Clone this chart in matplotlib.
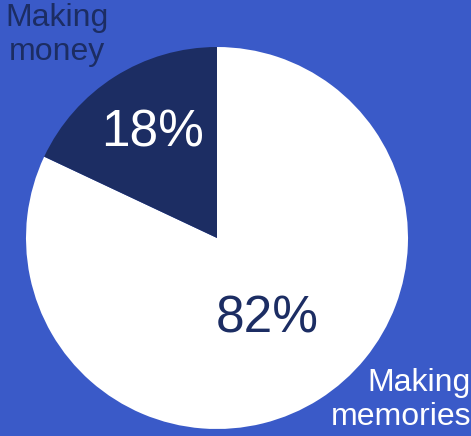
import matplotlib.pyplot as plt

labels = ["Making memories", "Making money"]
shares = [82, 18]

bg = "#3a5ac8"
navy = "#1c2d63"
white = "#ffffff"

plt.rcParams['font.family'] = ['Liberation Sans', 'DejaVu Sans']

fig = plt.figure(figsize=(4.71, 4.36), dpi=100, facecolor=bg)
ax = fig.add_axes([0, 0, 1, 1])
ax.set_facecolor(bg)

# pie in pixel-like data units so the layout stays put
ax.pie(shares, colors=[white, navy], startangle=90, counterclock=False,
       center=(217, 198), radius=191, wedgeprops=dict(linewidth=0))
ax.set_xlim(0, 471)
ax.set_ylim(0, 436)
ax.set_aspect('equal')
ax.axis('off')

ax.text(267, 117, f"{shares[0]}%", color=navy, fontsize=37, ha='center', va='center')
ax.text(153, 303, f"{shares[1]}%", color=white, fontsize=37, ha='center', va='center')

ax.text(57, 436 - 35, "Making\nmoney", color=navy, fontsize=23, ha='center', va='center',
        linespacing=1.2)
ax.text(471, 436 - 400, "Making\nmemories", color=white, fontsize=23, ha='right', va='center',
        multialignment='right', linespacing=1.2)

fig.savefig("out.png", dpi=100, facecolor=bg)
